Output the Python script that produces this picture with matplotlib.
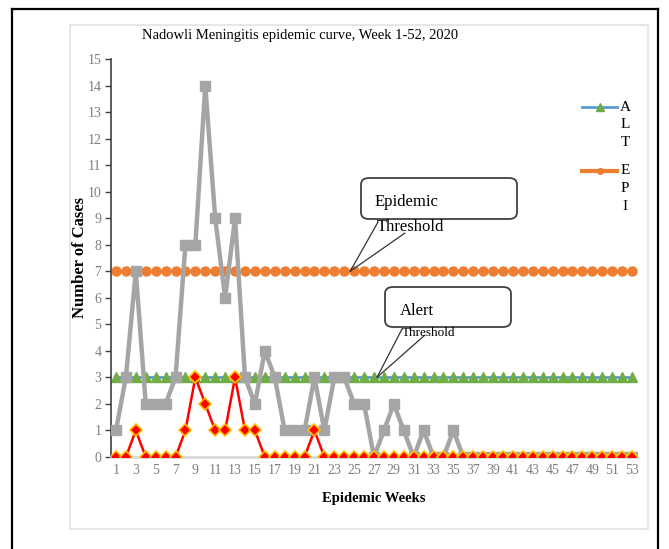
import numpy as np
import matplotlib
matplotlib.use("Agg")
import matplotlib.pyplot as plt
from matplotlib.patches import FancyBboxPatch, Rectangle
from matplotlib.lines import Line2D

plt.rcParams['font.family'] = ['Liberation Serif', 'DejaVu Serif']

# epidemic weeks 1..53
weeks = list(range(1, 54))
cases = [1, 3, 7, 2, 2, 2, 3, 8, 8, 14, 9, 6, 9, 3, 2, 4, 3, 1, 1, 1,
         3, 1, 3, 3, 2, 2, 0, 1, 2, 1, 0, 1, 0, 0, 1, 0] + [0] * 17
deaths = [0, 0, 1, 0, 0, 0, 0, 1, 3, 2, 1, 1, 3, 1, 1, 0, 0, 0, 0, 0,
          1] + [0] * 32
alert_level = 3
epidemic_level = 7
alt = [alert_level] * len(weeks)
epi = [epidemic_level] * len(weeks)

W, H = 669, 549
fig = plt.figure(figsize=(W / 100, H / 100), dpi=100)


def fx(x):
    return x / W


def fy(y):
    return 1 - y / H


# frames around the chart
fig.add_artist(Rectangle((fx(70), fy(529)), fx(648) - fx(70), fy(25) - fy(529),
                         transform=fig.transFigure, fill=False,
                         ec='#e3e3e3', lw=1.2))
for xs, ys in [([12, 12], [9, 549]), ([12, 658], [9, 9]), ([658, 658], [9, 549])]:
    fig.add_artist(Line2D([fx(v) for v in xs], [fy(v) for v in ys],
                          transform=fig.transFigure, color='black', lw=1.6))

ax = fig.add_axes([fx(111), fy(457), fx(637) - fx(111), fy(59) - fy(457)])

ax.plot(weeks, alt, color='#5b9bd5', lw=2, marker='^', ms=7.5,
        mfc='#70ad47', mec='#70ad47', zorder=2)
ax.plot(weeks, epi, color='#ed7d31', lw=2.4, marker='o', ms=6.5,
        mfc='#ed7d31', mec='#ed7d31', zorder=2)
ax.plot(weeks, cases, color='#a5a5a5', lw=3.2, marker='s', ms=7,
        mfc='#a5a5a5', mec='#a5a5a5', zorder=3)
ax.plot(weeks, deaths, color='#ff0000', lw=1.8, marker='D', ms=6.5,
        mfc='#ff0000', mec='#ffc000', mew=1.2, zorder=4)

ax.set_xlim(0.5, 53.5)
ax.set_ylim(0, 15)
ax.set_yticks(range(0, 16))
ax.set_xticks(weeks[::2])
ax.tick_params(axis='y', colors='#7f7f7f', labelsize=10, length=4,
               width=1, direction='out', pad=3)
ax.tick_params(axis='y', color='#404040')
ax.tick_params(axis='x', colors='#7f7f7f', labelsize=10, length=0, pad=5)
for s in ['top', 'right']:
    ax.spines[s].set_visible(False)
ax.spines['left'].set_color('#404040')
ax.spines['left'].set_linewidth(1.2)
ax.spines['bottom'].set_color('#d9d9d9')
ax.spines['bottom'].set_linewidth(2)
ax.set_facecolor('none')

ax.set_xlabel('Epidemic Weeks', fontsize=10.5, fontweight='bold', labelpad=11)
ax.set_ylabel('Number of Cases', fontsize=12, fontweight='bold')
# Excel lets the title sit over the tick labels
ax.yaxis.set_label_coords(-0.044, 0.5)

fig.text(fx(300), fy(36), 'Nadowli Meningitis epidemic curve, Week 1-52, 2020',
         ha='center', va='center', fontsize=10.5)

# legend drawn by hand: Excel wraps the names one letter per line
leg = [('ALT', 107, '#5b9bd5', 2, '^', 6, '#70ad47'),
       ('EPI', 171, '#ed7d31', 3, 'o', 4, '#ed7d31')]
for name, y0, lc, lw, mk, ms, mc in leg:
    fig.add_artist(Line2D([fx(582), fx(617)], [fy(y0), fy(y0)],
                          transform=fig.transFigure, color=lc, lw=lw))
    fig.add_artist(Line2D([fx(599.5)], [fy(y0)], transform=fig.transFigure,
                          ls='none', marker=mk, ms=ms, mfc=mc, mec=mc))
    for i, ch in enumerate(name):
        fig.text(fx(625), fy(y0 + i * 18), ch, ha='center', va='center',
                 fontsize=11)


# callout boxes
def callout(box, lines, tip, tails):
    x0, y0, x1, y1 = box
    fig.add_artist(FancyBboxPatch((fx(x0), fy(y1)), fx(x1) - fx(x0), fy(y0) - fy(y1),
                                  boxstyle='round,pad=0,rounding_size=0.012',
                                  transform=fig.transFigure, fc='white',
                                  ec='#404040', lw=1.3, zorder=5))
    for tx, ty in tails:
        ax.annotate('', xy=tip, xycoords='data', xytext=(tx, H - ty),
                    textcoords='figure pixels',
                    arrowprops=dict(arrowstyle='-', color='#333333', lw=0.9,
                                    shrinkA=0, shrinkB=0))
    for txt, tx, ty, fs in lines:
        fig.text(fx(tx), fy(ty), txt, ha='left', va='center', fontsize=fs,
                 zorder=6)


callout((361, 178, 517, 219),
        [('Epidemic', 375, 202, 12), ('Threshold', 377, 227, 12)],
        (24.6, epidemic_level), [(378, 222), (405, 233)])
callout((385, 287, 511, 327),
        [('Alert', 400, 311, 12), ('Threshold', 402, 333, 9.5)],
        (27.3, alert_level), [(402, 329), (425, 335)])

fig.savefig('out.png', dpi=100)
